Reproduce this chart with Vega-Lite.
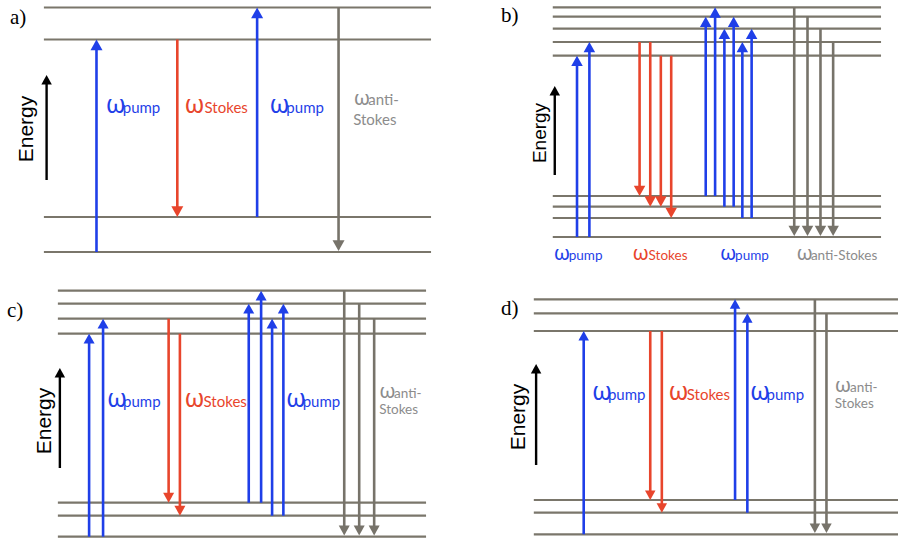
{
  "$schema": "https://vega.github.io/schema/vega-lite/v6.json",
  "width": 900,
  "height": 542,
  "autosize": {"type": "fit", "contains": "padding"},
  "padding": 0,
  "background": "white",
  "config": {"view": {"stroke": null}},
  "datasets": {
    "levels": [
      {"panel": "a", "x1": 44, "x2": 432, "y": 7.5},
      {"panel": "a", "x1": 44, "x2": 432, "y": 39.5},
      {"panel": "a", "x1": 44, "x2": 432, "y": 217},
      {"panel": "a", "x1": 44, "x2": 432, "y": 252},
      {"panel": "b", "x1": 554, "x2": 883, "y": 7.3},
      {"panel": "b", "x1": 554, "x2": 883, "y": 16.7},
      {"panel": "b", "x1": 554, "x2": 883, "y": 28.7},
      {"panel": "b", "x1": 554, "x2": 883, "y": 42},
      {"panel": "b", "x1": 554, "x2": 883, "y": 55.7},
      {"panel": "b", "x1": 554, "x2": 883, "y": 196},
      {"panel": "b", "x1": 554, "x2": 883, "y": 206.7},
      {"panel": "b", "x1": 554, "x2": 883, "y": 218},
      {"panel": "b", "x1": 554, "x2": 883, "y": 237},
      {"panel": "c", "x1": 58, "x2": 427, "y": 290.7},
      {"panel": "c", "x1": 58, "x2": 427, "y": 303.7},
      {"panel": "c", "x1": 58, "x2": 427, "y": 318.7},
      {"panel": "c", "x1": 58, "x2": 427, "y": 333.7},
      {"panel": "c", "x1": 58, "x2": 427, "y": 502.7},
      {"panel": "c", "x1": 58, "x2": 427, "y": 515.7},
      {"panel": "c", "x1": 58, "x2": 427, "y": 536.7},
      {"panel": "d", "x1": 535, "x2": 900, "y": 299.3},
      {"panel": "d", "x1": 535, "x2": 900, "y": 313.3},
      {"panel": "d", "x1": 535, "x2": 900, "y": 331},
      {"panel": "d", "x1": 535, "x2": 900, "y": 500},
      {"panel": "d", "x1": 535, "x2": 900, "y": 512.7},
      {"panel": "d", "x1": 535, "x2": 900, "y": 534.3}
    ],
    "transitions": [
      {"panel": "a", "kind": "pump", "x": 96.7, "from": 252, "to": 39.5},
      {"panel": "a", "kind": "stokes", "x": 177.7, "from": 39.5, "to": 217},
      {"panel": "a", "kind": "pump", "x": 257.7, "from": 217, "to": 7.5},
      {"panel": "a", "kind": "anti", "x": 339.3, "from": 7.5, "to": 251},
      {"panel": "b", "kind": "pump", "x": 578.3, "from": 237, "to": 55.7},
      {"panel": "b", "kind": "pump", "x": 590.7, "from": 237, "to": 42},
      {"panel": "b", "kind": "stokes", "x": 641, "from": 42, "to": 196},
      {"panel": "b", "kind": "stokes", "x": 651.7, "from": 42, "to": 206.7},
      {"panel": "b", "kind": "stokes", "x": 662.3, "from": 55.7, "to": 206.7},
      {"panel": "b", "kind": "stokes", "x": 672.7, "from": 55.7, "to": 218},
      {"panel": "b", "kind": "pump", "x": 707.3, "from": 196, "to": 16.7},
      {"panel": "b", "kind": "pump", "x": 716.7, "from": 196, "to": 7.3},
      {"panel": "b", "kind": "pump", "x": 726, "from": 206.7, "to": 28.7},
      {"panel": "b", "kind": "pump", "x": 735.3, "from": 206.7, "to": 16.7},
      {"panel": "b", "kind": "pump", "x": 744, "from": 218, "to": 42},
      {"panel": "b", "kind": "pump", "x": 753.3, "from": 218, "to": 28.7},
      {"panel": "b", "kind": "anti", "x": 796, "from": 7.3, "to": 236},
      {"panel": "b", "kind": "anti", "x": 809.3, "from": 16.7, "to": 236},
      {"panel": "b", "kind": "anti", "x": 822.3, "from": 28.7, "to": 236},
      {"panel": "b", "kind": "anti", "x": 835, "from": 42, "to": 236},
      {"panel": "c", "kind": "pump", "x": 89.3, "from": 536.7, "to": 333.7},
      {"panel": "c", "kind": "pump", "x": 103.3, "from": 536.7, "to": 318.7},
      {"panel": "c", "kind": "stokes", "x": 169, "from": 318.7, "to": 502.7},
      {"panel": "c", "kind": "stokes", "x": 180.3, "from": 333.7, "to": 515.7},
      {"panel": "c", "kind": "pump", "x": 249.3, "from": 502.7, "to": 303.7},
      {"panel": "c", "kind": "pump", "x": 261.7, "from": 502.7, "to": 290.7},
      {"panel": "c", "kind": "pump", "x": 272.7, "from": 515.7, "to": 318.7},
      {"panel": "c", "kind": "pump", "x": 284, "from": 515.7, "to": 303.7},
      {"panel": "c", "kind": "anti", "x": 345, "from": 290.7, "to": 535.5},
      {"panel": "c", "kind": "anti", "x": 360, "from": 303.7, "to": 535.5},
      {"panel": "c", "kind": "anti", "x": 375, "from": 318.7, "to": 535.5},
      {"panel": "d", "kind": "pump", "x": 585, "from": 534.3, "to": 331},
      {"panel": "d", "kind": "stokes", "x": 651.7, "from": 331, "to": 500},
      {"panel": "d", "kind": "stokes", "x": 663.3, "from": 331, "to": 512.7},
      {"panel": "d", "kind": "pump", "x": 736.7, "from": 500, "to": 299.3},
      {"panel": "d", "kind": "pump", "x": 749, "from": 512.7, "to": 313.3},
      {"panel": "d", "kind": "anti", "x": 816.7, "from": 299.3, "to": 533},
      {"panel": "d", "kind": "anti", "x": 828.3, "from": 313.3, "to": 533}
    ],
    "energyAxes": [
      {"panel": "a", "x": 46.7, "from": 180, "to": 75, "lx": 33, "ly": 129},
      {"panel": "b", "x": 556, "from": 175, "to": 86, "lx": 547, "ly": 133},
      {"panel": "c", "x": 60, "from": 468, "to": 368, "lx": 51, "ly": 421},
      {"panel": "d", "x": 537.3, "from": 465, "to": 364, "lx": 526, "ly": 417}
    ],
    "panelTags": [
      {"panel": "a", "tag": "a)", "x": 10, "y": 24},
      {"panel": "b", "tag": "b)", "x": 502, "y": 22},
      {"panel": "c", "tag": "c)", "x": 7, "y": 317},
      {"panel": "d", "tag": "d)", "x": 502, "y": 315}
    ],
    "labels": [
      {"panel": "a", "kind": "pump", "part": "omega", "text": "ω", "x": 106, "y": 113},
      {"panel": "a", "kind": "pump", "part": "sub", "text": "pump", "x": 123, "y": 113},
      {"panel": "a", "kind": "stokes", "part": "omega", "text": "ω", "x": 185, "y": 113},
      {"panel": "a", "kind": "stokes", "part": "sub", "text": "Stokes", "x": 205, "y": 113},
      {"panel": "a", "kind": "pump", "part": "omega", "text": "ω", "x": 270, "y": 113},
      {"panel": "a", "kind": "pump", "part": "sub", "text": "pump", "x": 287, "y": 113},
      {"panel": "a", "kind": "anti", "part": "omega", "text": "ω", "x": 354.5, "y": 105},
      {"panel": "a", "kind": "anti", "part": "sub", "text": "anti-", "x": 369, "y": 105},
      {"panel": "a", "kind": "anti", "part": "sub", "text": "Stokes", "x": 354, "y": 125},
      {"panel": "b", "kind": "pump", "part": "omega", "text": "ω", "x": 555, "y": 260},
      {"panel": "b", "kind": "pump", "part": "sub", "text": "pump", "x": 570, "y": 260},
      {"panel": "b", "kind": "stokes", "part": "omega", "text": "ω", "x": 634, "y": 260},
      {"panel": "b", "kind": "stokes", "part": "sub", "text": "Stokes", "x": 650, "y": 260},
      {"panel": "b", "kind": "pump", "part": "omega", "text": "ω", "x": 721.7, "y": 260},
      {"panel": "b", "kind": "pump", "part": "sub", "text": "pump", "x": 736.7, "y": 260},
      {"panel": "b", "kind": "anti", "part": "omega", "text": "ω", "x": 798.3, "y": 260},
      {"panel": "b", "kind": "anti", "part": "sub", "text": "anti-Stokes", "x": 812.7, "y": 260},
      {"panel": "c", "kind": "pump", "part": "omega", "text": "ω", "x": 107.3, "y": 407},
      {"panel": "c", "kind": "pump", "part": "sub", "text": "pump", "x": 123.3, "y": 407},
      {"panel": "c", "kind": "stokes", "part": "omega", "text": "ω", "x": 185, "y": 407},
      {"panel": "c", "kind": "stokes", "part": "sub", "text": "Stokes", "x": 204, "y": 407},
      {"panel": "c", "kind": "pump", "part": "omega", "text": "ω", "x": 286.7, "y": 407},
      {"panel": "c", "kind": "pump", "part": "sub", "text": "pump", "x": 303.3, "y": 407},
      {"panel": "c", "kind": "anti", "part": "omega", "text": "ω", "x": 380, "y": 398},
      {"panel": "c", "kind": "anti", "part": "sub", "text": "anti-", "x": 395, "y": 398},
      {"panel": "c", "kind": "anti", "part": "sub", "text": "Stokes", "x": 380, "y": 414},
      {"panel": "d", "kind": "pump", "part": "omega", "text": "ω", "x": 593.3, "y": 400},
      {"panel": "d", "kind": "pump", "part": "sub", "text": "pump", "x": 609.3, "y": 400},
      {"panel": "d", "kind": "stokes", "part": "omega", "text": "ω", "x": 670, "y": 400},
      {"panel": "d", "kind": "stokes", "part": "sub", "text": "Stokes", "x": 688.3, "y": 400},
      {"panel": "d", "kind": "pump", "part": "omega", "text": "ω", "x": 751.7, "y": 400},
      {"panel": "d", "kind": "pump", "part": "sub", "text": "pump", "x": 768.3, "y": 400},
      {"panel": "d", "kind": "anti", "part": "omega", "text": "ω", "x": 836.7, "y": 391.7},
      {"panel": "d", "kind": "anti", "part": "sub", "text": "anti-", "x": 852, "y": 391.7},
      {"panel": "d", "kind": "anti", "part": "sub", "text": "Stokes", "x": 836.7, "y": 407.5}
    ]
  },
  "resolve": {"scale": {"color": "independent"}},
  "layer": [
    {
      "description": "energy levels",
      "data": {"name": "levels"},
      "mark": {"type": "rule", "color": "#7a766b", "strokeWidth": 2.2},
      "encoding": {
        "x": {"field": "x1", "type": "quantitative", "scale": {"domain": [0, 900], "nice": false, "zero": false}, "axis": null},
        "x2": {"field": "x2"},
        "y": {"field": "y", "type": "quantitative", "scale": {"domain": [0, 542], "nice": false, "zero": false, "reverse": true}, "axis": null}
      }
    },
    {
      "description": "upward (pump) arrow shafts",
      "data": {"name": "transitions"},
      "transform": [{"filter": "datum.kind === 'pump'"}],
      "mark": {"type": "rule", "strokeWidth": 2.6, "y2Offset": 6},
      "encoding": {
        "x": {"field": "x", "type": "quantitative"},
        "y": {"field": "from", "type": "quantitative"},
        "y2": {"field": "to"},
        "color": {"field": "kind", "type": "nominal", "scale": {"domain": ["pump", "stokes", "anti"], "range": ["#1f3fe8", "#e8452c", "#77736a"]}, "legend": null}
      }
    },
    {
      "description": "downward arrow shafts",
      "data": {"name": "transitions"},
      "transform": [{"filter": "datum.kind !== 'pump'"}],
      "mark": {"type": "rule", "strokeWidth": 2.6, "y2Offset": -6},
      "encoding": {
        "x": {"field": "x", "type": "quantitative"},
        "y": {"field": "from", "type": "quantitative"},
        "y2": {"field": "to"},
        "color": {"field": "kind", "type": "nominal", "scale": {"domain": ["pump", "stokes", "anti"], "range": ["#1f3fe8", "#e8452c", "#77736a"]}, "legend": null}
      }
    },
    {
      "description": "upward arrow heads, tip at the target level",
      "data": {"name": "transitions"},
      "transform": [{"filter": "datum.kind === 'pump'"}],
      "mark": {"type": "point", "shape": "M0,0L-1,1.8L1,1.8Z", "filled": true, "opacity": 1, "strokeWidth": 0},
      "encoding": {
        "x": {"field": "x", "type": "quantitative"},
        "y": {"field": "to", "type": "quantitative"},
        "size": {"field": "panel", "type": "nominal", "scale": {"domain": ["a", "b", "c", "d"], "range": [144, 110, 144, 144]}, "legend": null},
        "color": {"field": "kind", "type": "nominal", "scale": {"domain": ["pump", "stokes", "anti"], "range": ["#1f3fe8", "#e8452c", "#77736a"]}, "legend": null}
      }
    },
    {
      "description": "downward arrow heads, tip at the target level",
      "data": {"name": "transitions"},
      "transform": [{"filter": "datum.kind !== 'pump'"}],
      "mark": {"type": "point", "shape": "M0,0L-1,-1.8L1,-1.8Z", "filled": true, "opacity": 1, "strokeWidth": 0},
      "encoding": {
        "x": {"field": "x", "type": "quantitative"},
        "y": {"field": "to", "type": "quantitative"},
        "size": {"field": "panel", "type": "nominal", "scale": {"domain": ["a", "b", "c", "d"], "range": [144, 110, 144, 144]}, "legend": null},
        "color": {"field": "kind", "type": "nominal", "scale": {"domain": ["pump", "stokes", "anti"], "range": ["#1f3fe8", "#e8452c", "#77736a"]}, "legend": null}
      }
    },
    {
      "description": "energy axis arrow shaft",
      "data": {"name": "energyAxes"},
      "mark": {"type": "rule", "color": "black", "strokeWidth": 2.4, "y2Offset": 6},
      "encoding": {
        "x": {"field": "x", "type": "quantitative"},
        "y": {"field": "from", "type": "quantitative"},
        "y2": {"field": "to"}
      }
    },
    {
      "description": "energy axis arrow head",
      "data": {"name": "energyAxes"},
      "mark": {"type": "point", "shape": "M0,0L-1,1.8L1,1.8Z", "filled": true, "opacity": 1, "color": "black", "strokeWidth": 0, "size": 110},
      "encoding": {
        "x": {"field": "x", "type": "quantitative"},
        "y": {"field": "to", "type": "quantitative"}
      }
    },
    {
      "description": "Energy caption",
      "data": {"name": "energyAxes"},
      "transform": [{"filter": "datum.panel !== 'b'"}],
      "mark": {"type": "text", "text": "Energy", "angle": 270, "align": "center", "baseline": "alphabetic", "font": "Liberation Sans", "fontSize": 21, "color": "black"},
      "encoding": {
        "x": {"field": "lx", "type": "quantitative"},
        "y": {"field": "ly", "type": "quantitative"}
      }
    },
    {
      "description": "Energy caption (panel b)",
      "data": {"name": "energyAxes"},
      "transform": [{"filter": "datum.panel === 'b'"}],
      "mark": {"type": "text", "text": "Energy", "angle": 270, "align": "center", "baseline": "alphabetic", "font": "Liberation Sans", "fontSize": 19, "color": "black"},
      "encoding": {
        "x": {"field": "lx", "type": "quantitative"},
        "y": {"field": "ly", "type": "quantitative"}
      }
    },
    {
      "description": "panel tags",
      "data": {"name": "panelTags"},
      "mark": {"type": "text", "align": "left", "baseline": "alphabetic", "font": "Liberation Serif", "fontSize": 21, "color": "black"},
      "encoding": {
        "x": {"field": "x", "type": "quantitative"},
        "y": {"field": "y", "type": "quantitative"},
        "text": {"field": "tag"}
      }
    },
    {
      "description": "omega symbols, large",
      "data": {"name": "labels"},
      "transform": [{"filter": "datum.part === 'omega' && datum.panel !== 'b' && datum.kind !== 'anti'"}],
      "mark": {"type": "text", "align": "left", "baseline": "alphabetic", "font": "Noto Sans", "fontSize": 25},
      "encoding": {
        "x": {"field": "x", "type": "quantitative"},
        "y": {"field": "y", "type": "quantitative"},
        "text": {"field": "text"},
        "color": {"field": "kind", "type": "nominal", "scale": {"domain": ["pump", "stokes", "anti"], "range": ["#1f3fe8", "#e8452c", "#8c8c8c"]}, "legend": null}
      }
    },
    {
      "description": "omega symbols, small",
      "data": {"name": "labels"},
      "transform": [{"filter": "datum.part === 'omega' && (datum.panel === 'b' || datum.kind === 'anti')"}],
      "mark": {"type": "text", "align": "left", "baseline": "alphabetic", "font": "Noto Sans", "fontSize": 20.5},
      "encoding": {
        "x": {"field": "x", "type": "quantitative"},
        "y": {"field": "y", "type": "quantitative"},
        "text": {"field": "text"},
        "color": {"field": "kind", "type": "nominal", "scale": {"domain": ["pump", "stokes", "anti"], "range": ["#1f3fe8", "#e8452c", "#8c8c8c"]}, "legend": null}
      }
    },
    {
      "description": "subscripts",
      "data": {"name": "labels"},
      "transform": [{"filter": "datum.part === 'sub' && datum.panel !== 'b' && !(datum.kind === 'anti' && datum.panel !== 'a')"}],
      "mark": {"type": "text", "align": "left", "baseline": "alphabetic", "font": "Lato", "fontSize": 15},
      "encoding": {
        "x": {"field": "x", "type": "quantitative"},
        "y": {"field": "y", "type": "quantitative"},
        "text": {"field": "text"},
        "color": {"field": "kind", "type": "nominal", "scale": {"domain": ["pump", "stokes", "anti"], "range": ["#1f3fe8", "#e8452c", "#8c8c8c"]}, "legend": null}
      }
    },
    {
      "description": "subscripts, compact",
      "data": {"name": "labels"},
      "transform": [{"filter": "datum.part === 'sub' && (datum.panel === 'b' || (datum.kind === 'anti' && datum.panel !== 'a'))"}],
      "mark": {"type": "text", "align": "left", "baseline": "alphabetic", "font": "Lato", "fontSize": 13.5},
      "encoding": {
        "x": {"field": "x", "type": "quantitative"},
        "y": {"field": "y", "type": "quantitative"},
        "text": {"field": "text"},
        "color": {"field": "kind", "type": "nominal", "scale": {"domain": ["pump", "stokes", "anti"], "range": ["#1f3fe8", "#e8452c", "#8c8c8c"]}, "legend": null}
      }
    }
  ]
}
